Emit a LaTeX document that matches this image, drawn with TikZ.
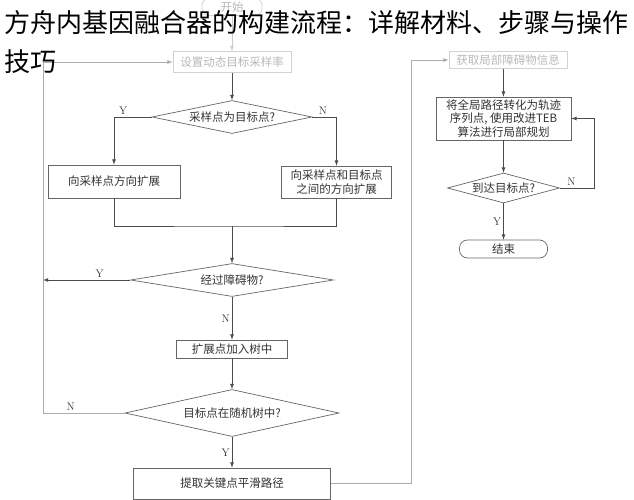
\documentclass[tikz,border=0pt]{standalone}
\usepackage{fontspec}
\newfontfamily\cjk{Noto Sans CJK SC}
\usetikzlibrary{shapes.geometric}

\begin{document}
\begin{tikzpicture}[>=latex, x=1pt, y=-1pt,
  line/.style={draw=black!70, line width=0.8pt},
  faint/.style={draw=gray!40, line width=0.8pt},
  rail/.style={draw=gray!65, line width=0.8pt},
  box/.style={draw=black!60, line width=0.7pt, fill=white, text=black!80,
    font=\cjk\fontsize{11.5}{13.5}\selectfont, inner sep=0pt, align=center},
  fbox/.style={box, draw=gray!35, text=gray!55},
  decision/.style={box, diamond},
  yn/.style={font=\fontsize{11}{13}\selectfont, text=black!80, inner sep=2pt},
  title/.style={font=\cjk\fontsize{26}{30}\selectfont, text=black, anchor=base west, inner sep=0pt}]
  \path[fill=white, use as bounding box] (0,0) rectangle (634,500);

  % rails and turning points
  \coordinate (leftrail) at (43,0);
  \coordinate (rightrail) at (411,0);
  \coordinate (merge) at (232,226);
  \coordinate (loop) at (594,0);

  % global planning (left column)
  \node[fbox, rounded corners=7pt, minimum width=60pt, minimum height=17pt] (start) at (232,7) {开始};
  \node[fbox, minimum width=118pt, minimum height=21pt] (rate) at (232,62) {设置动态目标采样率};
  \node[decision, aspect=4.85, minimum width=160pt, minimum height=33pt] (goal) at (232,117) {采样点为目标点?};
  \node[box, minimum width=132pt, minimum height=33pt] (toward) at (114,181.5) {向采样点方向扩展};
  \node[box, minimum width=110pt, minimum height=32pt] (between) at (336.5,182) {向采样点和目标点\\之间的方向扩展};
  \node[decision, aspect=6, minimum width=203pt, minimum height=33pt] (obstacle) at (232,280) {经过障碍物?};
  \node[box, minimum width=111pt, minimum height=18pt] (add) at (232,349) {扩展点加入树中};
  \node[decision, aspect=4.5, minimum width=214pt, minimum height=47pt] (intree) at (232,413) {目标点在随机树中?};
  \node[box, minimum width=197pt, minimum height=31pt] (smooth) at (232,483.5) {提取关键点平滑路径};

  % local planning (right column)
  \node[fbox, minimum width=118pt, minimum height=17pt] (local) at (508,60) {获取局部障碍物信息};
  \node[box, minimum width=135pt, minimum height=43pt] (teb) at (503.5,118.5) {将全局路径转化为轨迹\\序列点, 使用改进TEB\\算法进行局部规划};
  \node[decision, aspect=3.7, minimum width=112pt, minimum height=30pt] (reach) at (503.5,188) {到达目标点?};
  \node[box, rounded corners=8pt, minimum width=88pt, minimum height=18pt] (finish) at (503.5,249) {结束};

  % connectors
  \draw[faint,->] (start) -- (rate);
  \draw[line,->] (rate) -- (goal);
  \draw[line,->] (goal.west) -| (toward.north) node[yn, pos=0.38, above] {Y};
  \draw[line,->] (goal.east) -| (between.north) node[yn, pos=0.22, above] {N};
  \draw[line] (toward.south) |- (merge) -| (between.south);
  \draw[line,->] (merge) -- (obstacle);
  \draw[line,->] (obstacle.west) -- (obstacle.west -| leftrail) node[yn, pos=0.35, above] {Y};
  \draw[line,->] (obstacle) -- (add) node[yn, midway, left] {N};
  \draw[line,->] (add) -- (intree);
  \draw[rail,->] (intree.west) -| (leftrail |- rate) node[yn, pos=0.33, above] {N} -- (rate.west);
  \draw[line,->] (intree) -- (smooth) node[yn, midway, left] {Y};
  \draw[rail,->] (smooth.east) -| (rightrail |- local) -- (local.west);
  \draw[line,->] (local.south -| teb) -- (teb.north);
  \draw[line,->] (teb) -- (reach);
  \draw[line,->] (reach.east) -| (loop |- teb) node[yn, pos=0.17, above] {N} -- (teb.east);
  \draw[line,->] (reach) -- (finish) node[yn, midway, left] {Y};

  % caption over the chart
  \node[title] (title) at (4,33) {方舟内基因融合器的构建流程：详解材料、步骤与操作};
  \node[title] (titlemore) at (4,72) {技巧};
\end{tikzpicture}
\end{document}
